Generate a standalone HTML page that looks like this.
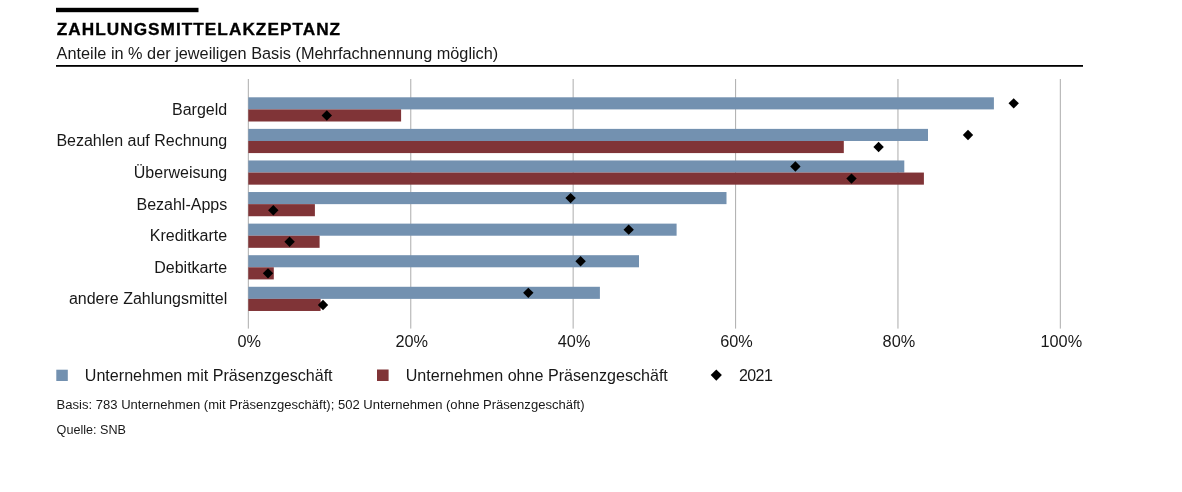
<!DOCTYPE html><html><head><meta charset="utf-8"><style>
html,body{margin:0;padding:0;background:#fff;}
body{width:1182px;height:492px;overflow:hidden;}
svg{display:block;will-change:transform;}
text{font-family:"Liberation Sans",Arial,sans-serif;fill:#181818;}
.t{font-size:16px;letter-spacing:0px;}
</style></head><body>
<svg width="1182" height="492" viewBox="0 0 1182 492">
<rect x="0" y="0" width="1182" height="492" fill="#fff"/>
<rect x="56" y="7.8" width="142.5" height="4.4" fill="#000"/>
<text x="56.7" y="34.8" style="font-size:17.2px;font-weight:bold;letter-spacing:1.05px;fill:#000;stroke:#000;stroke-width:0.35px">ZAHLUNGSMITTELAKZEPTANZ</text>
<text class="t" x="56.6" y="59.2" style="font-size:16.3px">Anteile in % der jeweiligen Basis (Mehrfachnennung möglich)</text>
<rect x="56" y="65" width="1027" height="1.8" fill="#000"/>
<rect x="247.80" y="79" width="1.1" height="249.6" fill="#b4b4b4"/>
<rect x="410.20" y="79" width="1.1" height="249.6" fill="#b4b4b4"/>
<rect x="572.60" y="79" width="1.1" height="249.6" fill="#b4b4b4"/>
<rect x="735.00" y="79" width="1.1" height="249.6" fill="#b4b4b4"/>
<rect x="897.40" y="79" width="1.1" height="249.6" fill="#b4b4b4"/>
<rect x="1059.80" y="79" width="1.1" height="249.6" fill="#b4b4b4"/>
<rect x="248.30" y="97.30" width="745.60" height="12.1" fill="#7391b0"/>
<rect x="248.30" y="109.40" width="152.80" height="12.1" fill="#803437"/>
<rect x="248.30" y="128.88" width="679.70" height="12.1" fill="#7391b0"/>
<rect x="248.30" y="140.98" width="595.50" height="12.1" fill="#803437"/>
<rect x="248.30" y="160.46" width="656.00" height="12.1" fill="#7391b0"/>
<rect x="248.30" y="172.56" width="675.60" height="12.1" fill="#803437"/>
<rect x="248.30" y="192.04" width="478.20" height="12.1" fill="#7391b0"/>
<rect x="248.30" y="204.14" width="66.60" height="12.1" fill="#803437"/>
<rect x="248.30" y="223.62" width="428.30" height="12.1" fill="#7391b0"/>
<rect x="248.30" y="235.72" width="71.30" height="12.1" fill="#803437"/>
<rect x="248.30" y="255.20" width="390.70" height="12.1" fill="#7391b0"/>
<rect x="248.30" y="267.30" width="25.50" height="12.1" fill="#803437"/>
<rect x="248.30" y="286.78" width="351.60" height="12.1" fill="#7391b0"/>
<rect x="248.30" y="298.88" width="72.30" height="12.1" fill="#803437"/>
<path d="M1013.70 98.15L1018.90 103.35L1013.70 108.55L1008.50 103.35Z" fill="#000"/>
<path d="M326.80 110.25L332.00 115.45L326.80 120.65L321.60 115.45Z" fill="#000"/>
<path d="M968.00 129.73L973.20 134.93L968.00 140.13L962.80 134.93Z" fill="#000"/>
<path d="M878.60 141.83L883.80 147.03L878.60 152.23L873.40 147.03Z" fill="#000"/>
<path d="M795.40 161.31L800.60 166.51L795.40 171.71L790.20 166.51Z" fill="#000"/>
<path d="M851.50 173.41L856.70 178.61L851.50 183.81L846.30 178.61Z" fill="#000"/>
<path d="M570.60 192.89L575.80 198.09L570.60 203.29L565.40 198.09Z" fill="#000"/>
<path d="M273.30 204.99L278.50 210.19L273.30 215.39L268.10 210.19Z" fill="#000"/>
<path d="M628.70 224.47L633.90 229.67L628.70 234.87L623.50 229.67Z" fill="#000"/>
<path d="M289.60 236.57L294.80 241.77L289.60 246.97L284.40 241.77Z" fill="#000"/>
<path d="M580.60 256.05L585.80 261.25L580.60 266.45L575.40 261.25Z" fill="#000"/>
<path d="M268.00 268.15L273.20 273.35L268.00 278.55L262.80 273.35Z" fill="#000"/>
<path d="M528.30 287.63L533.50 292.83L528.30 298.03L523.10 292.83Z" fill="#000"/>
<path d="M323.00 299.73L328.20 304.93L323.00 310.13L317.80 304.93Z" fill="#000"/>
<text class="t" x="227.2" y="114.80" text-anchor="end">Bargeld</text>
<text class="t" x="227.2" y="146.38" text-anchor="end">Bezahlen auf Rechnung</text>
<text class="t" x="227.2" y="177.96" text-anchor="end">Überweisung</text>
<text class="t" x="227.2" y="209.54" text-anchor="end">Bezahl-Apps</text>
<text class="t" x="227.2" y="241.12" text-anchor="end">Kreditkarte</text>
<text class="t" x="227.2" y="272.70" text-anchor="end">Debitkarte</text>
<text class="t" x="227.2" y="304.28" text-anchor="end">andere Zahlungsmittel</text>
<text class="t" x="249.30" y="346.8" text-anchor="middle" style="font-size:16.3px">0%</text>
<text class="t" x="411.70" y="346.8" text-anchor="middle" style="font-size:16.3px">20%</text>
<text class="t" x="574.10" y="346.8" text-anchor="middle" style="font-size:16.3px">40%</text>
<text class="t" x="736.50" y="346.8" text-anchor="middle" style="font-size:16.3px">60%</text>
<text class="t" x="898.90" y="346.8" text-anchor="middle" style="font-size:16.3px">80%</text>
<text class="t" x="1061.30" y="346.8" text-anchor="middle" style="font-size:16.3px">100%</text>
<rect x="56.3" y="369.7" width="11.5" height="11.3" fill="#7391b0"/>
<text class="t" x="84.8" y="380.6" style="font-size:16.1px">Unternehmen mit Präsenzgeschäft</text>
<rect x="377" y="369.5" width="11.6" height="11.5" fill="#803437"/>
<text class="t" x="405.7" y="380.6" style="font-size:16.1px">Unternehmen ohne Präsenzgeschäft</text>
<path d="M716.3 369.5L721.9 375.1L716.3 380.70000000000005L710.6999999999999 375.1Z" fill="#000"/>
<text class="t" x="739.0" y="380.6" style="font-size:16px;letter-spacing:-0.6px">2021</text>
<text x="56.6" y="408.7" style="font-size:13.06px;letter-spacing:0px">Basis: 783 Unternehmen (mit Präsenzgeschäft); 502 Unternehmen (ohne Präsenzgeschäft)</text>
<text x="56.6" y="433.9" style="font-size:12.6px;letter-spacing:0px">Quelle: SNB</text>
</svg></body></html>
